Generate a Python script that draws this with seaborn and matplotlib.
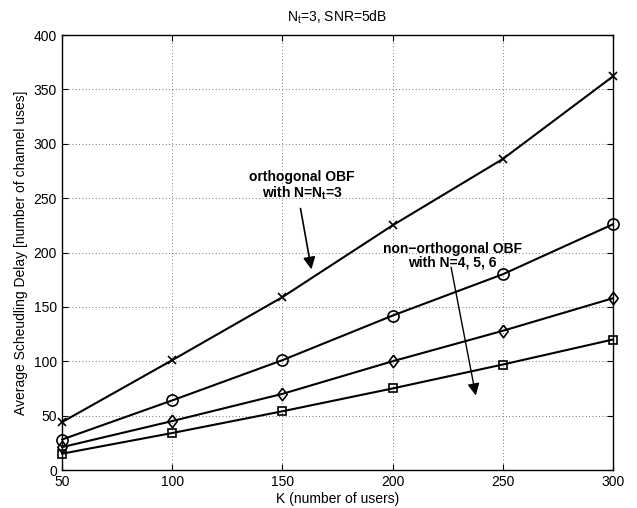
import numpy as np
import pandas as pd
import seaborn as sns
import matplotlib
matplotlib.use('Agg')
import matplotlib.pyplot as plt

# data
users = [50, 100, 150, 200, 250, 300]
delay_orth = [44, 101, 159, 225, 286, 362]
delay_n4 = [28, 64, 101, 142, 180, 226]
delay_n5 = [21, 45, 70, 100, 128, 158]
delay_n6 = [15, 34, 54, 75, 97, 120]

# slightly narrow diamond, like the matlab one
diamond = [(0, 1), (0.75, 0), (0, -1), (-0.75, 0), (0, 1)]

series = [
    ('orthogonal', delay_orth, 'x', 6),
    ('N=4', delay_n4, 'o', 8),
    ('N=5', delay_n5, diamond, 9),
    ('N=6', delay_n6, 's', 6),
]

sns.set_style('ticks')
plt.rcParams['font.family'] = ['Liberation Sans', 'DejaVu Sans']
plt.rcParams.update({
    'mathtext.default': 'regular',
    'xtick.direction': 'in',
    'ytick.direction': 'in',
    'text.color': 'black',
    'axes.labelcolor': 'black',
    'xtick.color': 'black',
    'ytick.color': 'black',
    'axes.edgecolor': 'black',
})

fig = plt.figure(figsize=(6.37, 5.08), dpi=100)
ax = fig.add_axes([0.0973, 0.0748, 0.865, 0.8562])

for name, vals, mk, ms in series:
    df = pd.DataFrame({'K': users, 'delay': vals})
    sns.lineplot(data=df, x='K', y='delay', ax=ax, color='black', lw=1.5,
                 marker=mk, markersize=ms, markerfacecolor='none',
                 markeredgecolor='black', markeredgewidth=1.2, clip_on=False,
                 zorder=3)

ax.set_xlim(50, 300)
ax.set_ylim(0, 400)
ax.set_xticks([50, 100, 150, 200, 250, 300])
ax.set_yticks(np.arange(0, 401, 50))
ax.grid(True, linestyle=(0, (1, 3)), color='black', lw=0.6, alpha=0.7)
for s in ax.spines.values():
    s.set_visible(True)
    s.set_linewidth(1.0)
ax.tick_params(labelsize=10, top=True, right=True, length=4)

ax.set_xlabel('K (number of users)', fontsize=10, labelpad=2)
ax.set_ylabel('Average Scheudling Delay [number of channel uses]', fontsize=10, labelpad=4)
ax.set_title('N$_t$=3, SNR=5dB', fontsize=10, pad=10)

ax.annotate('', xy=(163.4, 182), xytext=(158, 243),
            arrowprops=dict(arrowstyle='-|>', color='black', lw=1.2, mutation_scale=18))
ax.text(159, 261, 'orthogonal OBF\nwith N=N$_t$=3', ha='center', va='center',
        fontsize=10, fontweight='bold', linespacing=1.0)

ax.annotate('', xy=(238, 66), xytext=(226.3, 189),
            arrowprops=dict(arrowstyle='-|>', color='black', lw=1.0, mutation_scale=18))
ax.text(227, 197, 'non\u2212orthogonal OBF\nwith N=4, 5, 6', ha='center', va='center',
        fontsize=10, fontweight='bold', linespacing=1.0)

fig.savefig('out.png', dpi=100)
